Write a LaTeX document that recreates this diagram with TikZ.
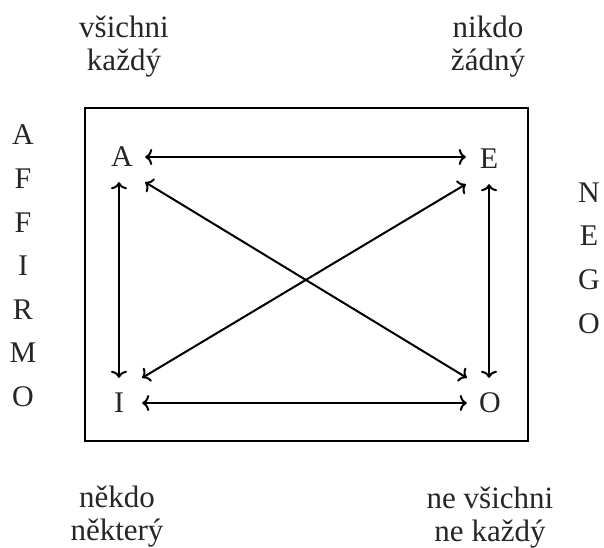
\documentclass[tikz,border=0pt]{standalone}
\usepackage{fontspec}
\setmainfont{Liberation Serif}
\usetikzlibrary{arrows.meta}
\begin{document}
\begin{tikzpicture}[x=1pt,y=-1pt,
  lbl/.style={font=\fontsize{31}{33}\selectfont, text=black!85, inner sep=0pt},
  letter/.style={font=\fontsize{30}{33}\selectfont, text=black!85, inner sep=0pt, minimum width=46pt, minimum height=50pt},
  conn/.style={line width=2pt, {To[length=7pt,width=16pt]}-{To[length=7pt,width=16pt]}},
  vert/.style={font=\fontsize{30}{43.6}\selectfont, text=black!85, inner sep=0pt, align=center}]
\useasboundingbox (0,0) rectangle (604,547);
\node[draw, line width=2pt, minimum width=443pt, minimum height=333pt, inner sep=0pt] (box) at (306,274) {};
\node[letter] (A) at (122,157) {A};
\node[letter] (E) at (489,159) {E};
\node[letter] (I) at (119,403) {I};
\node[letter] (O) at (490,403) {O};
\draw[conn] (A.east) -- (E.west |- A.east);
\draw[conn] (I.east) -- (O.west);
\draw[conn] (A.south -| I.north) -- (I.north);
\draw[conn] (E.south) -- (O.north -| E.south);
\draw[conn] (A.south east) -- (O.north west);
\draw[conn] (E.south west) -- (I.north east);
\node[lbl, align=center, anchor=base] (t1) at (124,70) {všichni\\každý};
\node[lbl, align=center, anchor=base] (t2) at (488,70) {nikdo\\žádný};
\node[lbl, align=center, anchor=base] (t3) at (117,540) {někdo\\některý};
\node[lbl, align=center, anchor=base] (t4) at (490,541) {ne všichni\\ne každý};
\node[vert] (aff) at (23,266) {A\\F\\F\\I\\R\\M\\O};
\node[vert] (neg) at (589,258) {N\\E\\G\\O};
\end{tikzpicture}
\end{document}
